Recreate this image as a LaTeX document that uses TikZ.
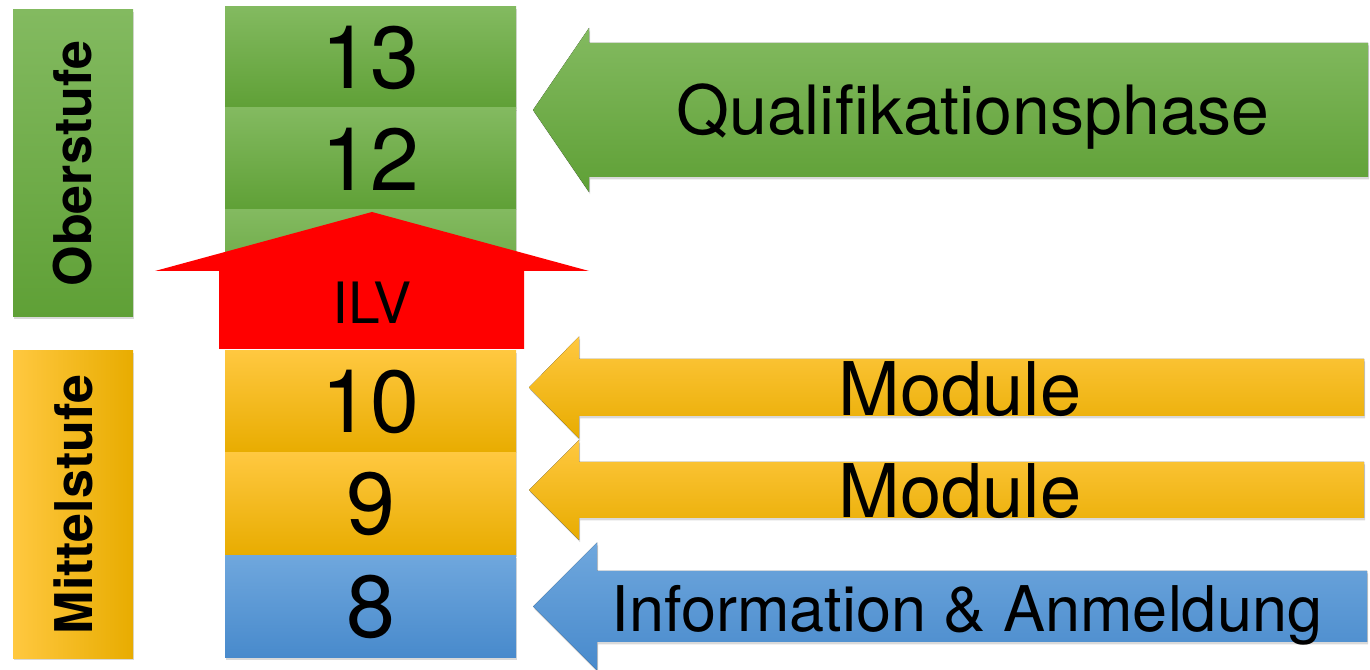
\documentclass[tikz,border=0pt]{standalone}
\usepackage{fontspec}
\setmainfont{TeX Gyre Heros}
\usetikzlibrary{shadows}

\definecolor{grTop}{RGB}{131,186,96}
\definecolor{grBot}{RGB}{95,160,54}
\definecolor{yeTop}{RGB}{255,200,64}
\definecolor{yeMid}{RGB}{255,192,0}
\definecolor{yeBot}{RGB}{232,172,0}
\definecolor{blTop}{RGB}{111,167,221}
\definecolor{blBot}{RGB}{72,138,204}

\newcommand{\leftarr}[7]{%
  % #1 style, #2 tip x, #3 tip y, #4 head x, #5 head half, #6 shaft half, #7 tail x
  \fill[#1] (#2,#3) -- (#4,#3+#5) -- (#4,#3+#6) -- (#7,#3+#6)
    -- (#7,#3-#6) -- (#4,#3-#6) -- (#4,#3-#5) -- cycle;
}

\begin{document}
\begin{tikzpicture}[x=0.5pt,y=0.5pt]

\tikzset{
  shad/.style={drop shadow={opacity=0.3, shadow xshift=0.6pt, shadow yshift=-1.2pt}},
  grade/.style={shad, minimum width=145.5pt, minimum height=51pt, inner sep=0pt,
    font=\fontsize{44}{44}\selectfont},
  green/.style={top color=grTop, bottom color=grBot},
  yellow/.style={top color=yeTop, middle color=yeMid, bottom color=yeBot},
  blue/.style={top color=blTop, bottom color=blBot},
  stufe/.style={shad, rotate=90, minimum width=153.5pt, minimum height=60pt, inner sep=0pt,
    font=\fontsize{26}{26}\selectfont\bfseries},
  lbl/.style={anchor=base, inner sep=0pt},
}

\useasboundingbox (0,0) rectangle (1370,669);

% ---------------- left: Stufen ----------------
\node[stufe, green] (ober) at (73,505.5) {Oberstufe};
\node[stufe, left color=yeTop, middle color=yeMid, right color=yeBot] (mittel) at (73,164.5) {Mittelstufe};

% ---------------- middle: Jahrgaenge ----------------
\node[grade, green] (j13) at (370.5,611.5) {13};
\node[grade, green] (j12) at (370.5,510) {12};
\node[grade, green] (j11) at (370.5,408) {};
\node[grade, yellow] (j10) at (370.5,267) {10};
\node[grade, yellow] (j9) at (370.5,165) {9};
\node[grade, blue] (j8) at (370.5,62.5) {8};

% red arrow up
\fill[red] (372,457) -- (589,398) -- (524,398) -- (524,320) -- (219,320)
  -- (219,398) -- (155,398) -- cycle;
\node[font=\fontsize{28.5}{28.5}\selectfont, inner sep=0pt] (ilv) at (372,366.5) {ILV};

% ---------------- right: arrows ----------------
\leftarr{shad, green}{533}{559}{589}{82}{67}{1368}
\node[lbl, font=\fontsize{34}{34}\selectfont] (quali) at (973,534) {Qualifikationsphase};

\leftarr{shad, yellow}{529}{281.5}{579}{51}{28.5}{1364}
\node[lbl, font=\fontsize{37}{37}\selectfont] (mod10) at (960,253) {Module};

\leftarr{shad, yellow}{529}{179}{579}{50}{28}{1364}
\node[lbl, font=\fontsize{37}{37}\selectfont] (mod9) at (960,151) {Module};

\leftarr{shad, blue}{533}{62.5}{597}{64}{35.5}{1367}
\node[lbl, font=\fontsize{31.5}{31.5}\selectfont] (info) at (967,38) {Information \& Anmeldung};

\end{tikzpicture}
\end{document}
